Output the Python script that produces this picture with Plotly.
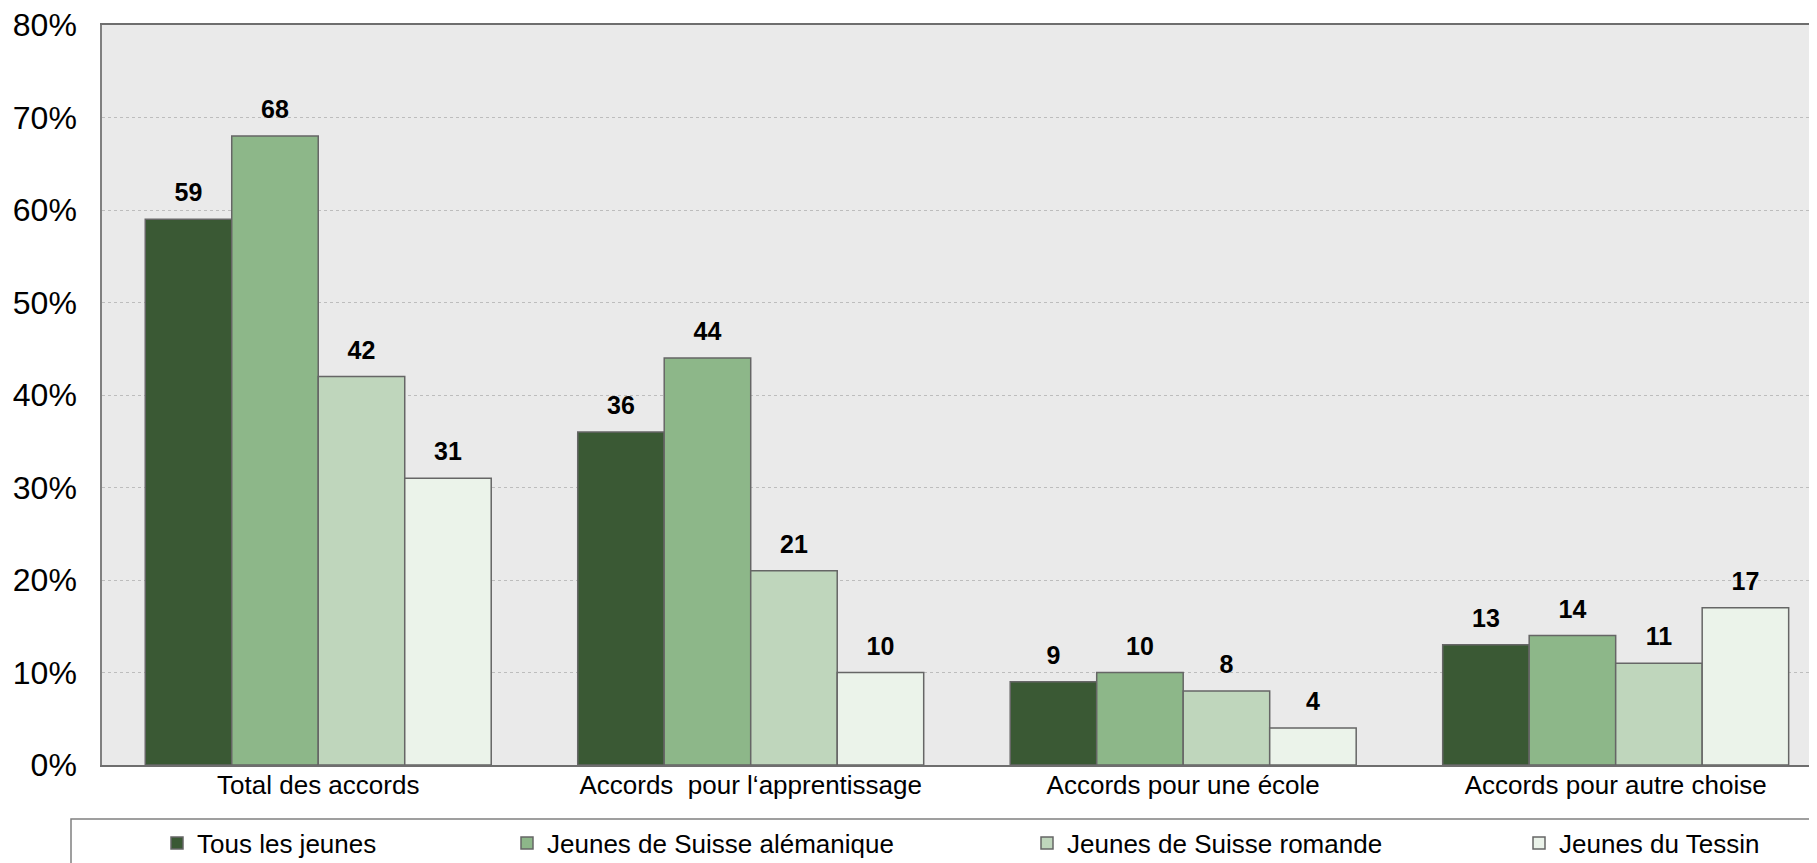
import plotly.graph_objects as go

# données
categories = ['Total des accords', 'Accords\u00a0 pour l\u2018apprentissage', 'Accords pour une école', 'Accords pour autre choise']
series = ['Tous les jeunes', 'Jeunes de Suisse alémanique', 'Jeunes de Suisse romande', 'Jeunes du Tessin']
tous = [59, 36, 9, 13]
alemanique = [68, 44, 10, 14]
romande = [42, 21, 8, 11]
tessin = [31, 10, 4, 17]
valeurs = [tous, alemanique, romande, tessin]
couleurs = ['#3A5934', '#8DB789', '#BFD6BC', '#EBF3EA']
yticks = [0, 10, 20, 30, 40, 50, 60, 70, 80]

# la page html ajoute 8 px de marge : on compense
plot_l, plot_t, plot_w, plot_h = 94, 17, 1723, 740
plot_b = plot_t + plot_h
leg_px = [149, 499, 1019, 1511]

fig = go.Figure()
for i, (nom, vals, col) in enumerate(zip(series, valeurs, couleurs)):
    leg = 'legend' if i == 0 else f'legend{i + 1}'
    fig.add_trace(go.Bar(
        x=categories, y=vals, name=nom, legend=leg,
        marker=dict(color=col, line=dict(color='#666666', width=1.5)),
        hoverinfo='skip',
    ))
# étiquettes au-dessus des barres
for i, vals in enumerate(valeurs):
    fig.add_trace(go.Scatter(
        x=categories, y=vals, mode='markers+text',
        text=[f'<b>{v}</b>' for v in vals], textposition='top center',
        textfont=dict(family='Liberation Sans, Arial', size=25, color='black'),
        marker=dict(size=17, color='rgba(0,0,0,0)'),
        showlegend=False, cliponaxis=False, hoverinfo='skip',
    ))

legend_common = dict(
    orientation='h', xanchor='left', yanchor='middle', y=(plot_b - 835) / plot_h,
    font=dict(family='Liberation Sans, Arial', size=26, color='black'),
    bgcolor='rgba(0,0,0,0)', itemwidth=30, traceorder='normal',
)
legends = {}
for i, px in enumerate(leg_px):
    key = 'legend' if i == 0 else f'legend{i + 1}'
    legends[key] = dict(legend_common, x=(px - plot_l) / plot_w)

fig.update_layout(
    width=1817, height=863,
    margin=dict(l=plot_l, r=0, t=plot_t, b=863 - plot_b, autoexpand=False),
    paper_bgcolor='white', plot_bgcolor='#EAEAEA',
    barmode='group', bargap=0.2, bargroupgap=0,
    scattermode='group', scattergap=0.2,
    font=dict(family='Liberation Sans, Arial', color='black'),
    showlegend=True,
    **legends,
)
fig.update_xaxes(
    range=[-0.5, 3.484], showline=True, mirror=True, linecolor='#6E6E6E', linewidth=1.5,
    showgrid=False, ticks='', tickfont=dict(size=26), ticklabelstandoff=-4, automargin=False,
)
fig.update_yaxes(
    range=[0, 80], tickvals=yticks, ticktext=[f'{v}%' for v in yticks],
    showline=True, linecolor='#808080', linewidth=1.5,
    showgrid=True, gridcolor='#BDBDBD', gridwidth=1, griddash='dot',
    zeroline=False, ticks='', tickfont=dict(size=32), ticklabelstandoff=17, automargin=False,
    ticklabeloverflow='allow',
)
# cadre de la légende
fig.add_shape(type='rect', xref='paper', yref='paper',
              x0=(63 - plot_l) / plot_w, x1=1.05, y0=-0.3, y1=(plot_b - 811) / plot_h,
              line=dict(color='#808080', width=1.5), fillcolor='rgba(0,0,0,0)', layer='above')

fig.write_html('out.html')
